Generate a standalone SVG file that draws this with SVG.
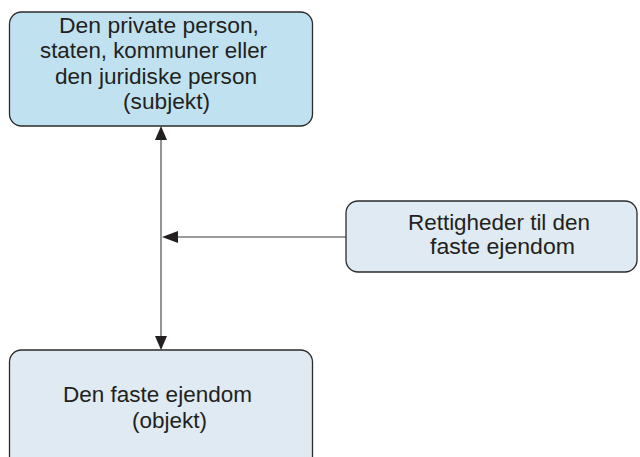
<svg xmlns="http://www.w3.org/2000/svg" width="640" height="457" viewBox="0 0 640 457">
  <style>
    .box { stroke: #2b2b2b; stroke-width: 1.3; }
    .subject { fill: #c0e2f0; }
    .object { fill: #dfeaf2; }
    .lbl { font-family: "Liberation Sans", Arial, Helvetica, sans-serif; font-size: 21.5px; fill: #231f20; }
    .link { stroke: #7a7a7a; stroke-width: 1.6; fill: none; }
    .head { fill: #231f20; }
  </style>
  <rect width="640" height="457" fill="#ffffff"/>

  <!-- connectors -->
  <g id="connectors">
    <line class="link" x1="161" y1="138" x2="161" y2="338"/>
    <line class="link" x1="176" y1="237" x2="346" y2="237"/>
    <!-- arrowheads -->
    <polygon class="head" points="161,126 155,140 167,140"/>
    <polygon class="head" points="161,350 155,336 167,336"/>
    <polygon class="head" points="162,237 178,231 178,243"/>
  </g>

  <!-- subject node -->
  <g id="node-subject">
    <rect class="box subject" x="9.5" y="12" width="303" height="114" rx="12"/>
    <text class="lbl" x="59" y="33" textLength="200" lengthAdjust="spacingAndGlyphs">Den private person,</text>
    <text class="lbl" x="40" y="58" textLength="227" lengthAdjust="spacingAndGlyphs">staten, kommuner eller</text>
    <text class="lbl" x="55" y="84" textLength="202" lengthAdjust="spacingAndGlyphs">den juridiske person</text>
    <text class="lbl" x="123" y="109" textLength="87" lengthAdjust="spacingAndGlyphs">(subjekt)</text>
  </g>

  <!-- rights node -->
  <g id="node-rights">
    <rect class="box object" x="346" y="201" width="291" height="71" rx="12"/>
    <text class="lbl" x="408" y="230" textLength="182" lengthAdjust="spacingAndGlyphs">Rettigheder til den</text>
    <text class="lbl" x="430" y="254" textLength="145" lengthAdjust="spacingAndGlyphs">faste ejendom</text>
  </g>

  <!-- object node -->
  <g id="node-object">
    <rect class="box object" x="9.5" y="350" width="303" height="130" rx="12"/>
    <text class="lbl" x="63" y="402" textLength="189" lengthAdjust="spacingAndGlyphs">Den faste ejendom</text>
    <text class="lbl" x="132" y="428" textLength="75" lengthAdjust="spacingAndGlyphs">(objekt)</text>
  </g>
</svg>
